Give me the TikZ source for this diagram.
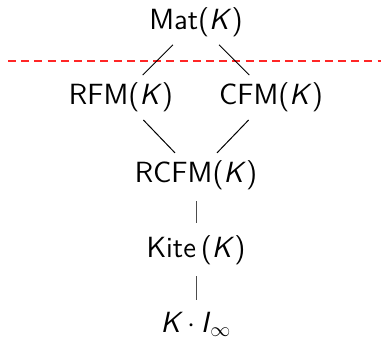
\documentclass[tikz,border=0pt]{standalone}
\begin{document}
\begin{tikzpicture}[x=0.5pt,y=-0.5pt,
  lbl/.style={inner sep=0pt,outer sep=0pt,anchor=base,font=\fontsize{14.6}{17}\selectfont\sffamily},
  edge/.style={line width=0.5pt,shorten <=6pt,shorten >=5pt},
  vedge/.style={line width=0.5pt,draw=black!70,shorten <=6pt,shorten >=6pt}]
\newcommand\sK{\textsl{K}}
\useasboundingbox (0,0) rectangle (381,338);
\node[lbl] (mat) at (196,29) {Mat(\sK)};
\node[lbl] (rfm) at (121,104) {RFM(\sK)};
\node[lbl] (cfm) at (271,104) {CFM(\sK)};
\node[lbl] (rcfm) at (196,182) {RCFM(\sK)};
\node[lbl] (kite) at (196,257) {Kite\,(\sK)};
\node[lbl] (ki) at (196,332) {\sK\,$\cdot$\,\textsl{I}$_\infty$};
\coordinate (dl) at (8,61);
\coordinate (dr) at (381,61);
\draw[draw=red!85,dash pattern=on 4pt off 2.6pt,line width=0.6pt] (dl) -- (dr);
\draw[edge] (mat) -- (rfm);
\draw[edge] (mat) -- (cfm);
\draw[edge] (rfm) -- (rcfm);
\draw[edge] (cfm) -- (rcfm);
\draw[vedge] (rcfm) -- (kite);
\draw[vedge] (kite) -- (ki);
\end{tikzpicture}
\end{document}
